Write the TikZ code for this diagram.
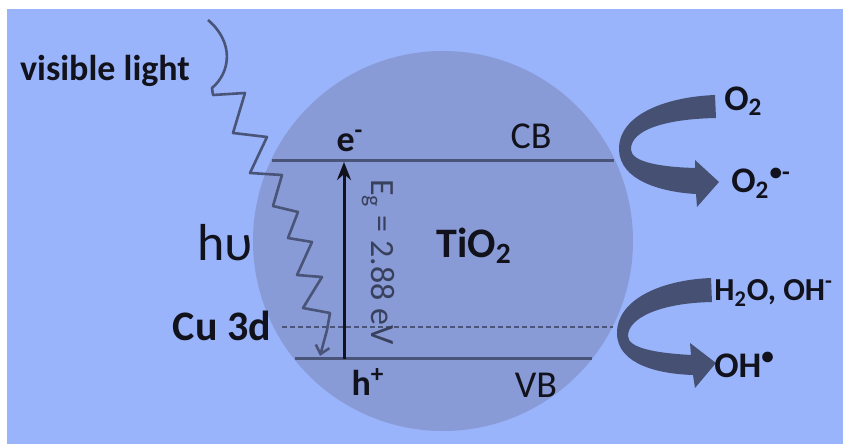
\documentclass[tikz,border=0pt]{standalone}
\usepackage{fontspec}
\setmainfont{Carlito}
\usetikzlibrary{arrows.meta}

\definecolor{sky}{RGB}{153,180,250}
\definecolor{ballblue}{RGB}{136,155,214}
\definecolor{bandgray}{RGB}{74,84,120}
\definecolor{arrowgray}{RGB}{70,80,114}
\definecolor{ink}{RGB}{18,18,28}

\begin{document}
\begin{tikzpicture}[
  x=0.5pt, y=-0.5pt,
  ball/.style     = {fill=ballblue},
  band/.style     = {draw=bandgray, line width=1.5pt},
  level/.style    = {draw=bandgray, line width=1.2pt, dash pattern=on 2.5pt off 1.5pt},
  gap/.style      = {draw=ink, line width=1.5pt, -{Stealth[length=9pt,width=7pt]}},
  photon/.style   = {draw=bandgray, line width=1.3pt, line join=round,
                     -{Straight Barb[length=4pt,width=7pt]}},
  lbl/.style      = {font=\fontsize{18}{18}\selectfont\bfseries, text=ink, inner sep=1pt},
  bigarrow/.style = {fill=arrowgray},
]
  \useasboundingbox (0,0) rectangle (843,444);
  \fill[sky] (7,9) rectangle (843,444);

  % the TiO2 particle
  \fill[ball] (443,241) circle[radius=190];

  % band edges, cut at the rim of the particle
  \coordinate (cbL) at (272,161);
  \coordinate (cbR) at (614,161);
  \coordinate (vbL) at (295,359);
  \coordinate (vbR) at (592,359);
  \coordinate (cuL) at (282,327);
  \coordinate (cuR) at (613,327);
  \draw[band] (cbL) -- (cbR);
  \draw[band] (vbL) -- (vbR);
  \draw[level] (cuL) -- (cuR);

  % excitation across the gap
  \coordinate (gapbot) at (344,359);
  \coordinate (gaptop) at (344,162);
  \draw[gap] (gapbot) -- (gaptop);

  % incoming photon
  \coordinate (ray0) at (208,20);
  \coordinate (ray1) at (320,356);
  \draw[photon] (ray0) .. controls (234,42) and (231,72) .. (212,88)
    -- (213,95) -- (245,93) -- (233,133) -- (267,137) -- (250,173)
    -- (282,175) -- (273,206) -- (298,212) -- (288,238) -- (312,242)
    -- (297,275) -- (322,277) -- (303,308) -- (330,313) -- (327,330) -- (ray1);

  \node[lbl] (light) at (105,71) {visible light};
  \node[lbl, font=\fontsize{26}{26}\selectfont] (hv) at (225,243) {hυ};
  \node[lbl, font=\fontsize{21}{21}\selectfont\bfseries] (cu) at (222,326) {Cu 3d};
  \node[lbl] (e) at (350,141) {e\textsuperscript{-}};
  \node[lbl] (h) at (368,382) {h\textsuperscript{+}};
  \node[lbl, font=\fontsize{19}{19}\selectfont] (cb) at (531,136) {CB};
  \node[lbl, font=\fontsize{19}{19}\selectfont] (vb) at (536,385) {VB};
  \node[lbl, font=\fontsize{21}{21}\selectfont\bfseries] (tio) at (474,246) {TiO\textsubscript{2}};
  \node[lbl, rotate=-90, text=bandgray!70!ink, font=\fontsize{17}{17}\selectfont] (eg)
    at (378,262) {E\textsubscript{g} = 2.88 eV};

  % surface reactions
  \fill[bigarrow] (715,95) .. controls (665,97) and (618,115) .. (619,150)
    .. controls (620,180) and (660,192) .. (696,194)
    -- (697,207) -- (719,182) -- (695,160) -- (695,168)
    .. controls (660,167) and (632,162) .. (631,150)
    .. controls (630,130) and (665,119) .. (716,118) -- cycle;
  \fill[bigarrow] (711,278) .. controls (660,280) and (617,300) .. (617,333)
    .. controls (617,365) and (660,374) .. (693,375)
    -- (695,388) -- (716,363) -- (690,343) -- (691,355)
    .. controls (655,353) and (628,348) .. (628,336)
    .. controls (628,318) and (660,303) .. (712,302) -- cycle;

  \node[lbl, anchor=west] (o2)  at (722,101) {O\textsubscript{2}};
  \node[lbl, anchor=west] (o2r) at (729,183) {O\textsubscript{2}\textsuperscript{•-}};
  \node[lbl, anchor=west, font=\fontsize{16}{16}\selectfont\bfseries] (h2o)
    at (712,293) {H\textsubscript{2}O, OH\textsuperscript{-}};
  \node[lbl, anchor=west] (oh)  at (712,365) {OH\textsuperscript{•}};
\end{tikzpicture}
\end{document}
